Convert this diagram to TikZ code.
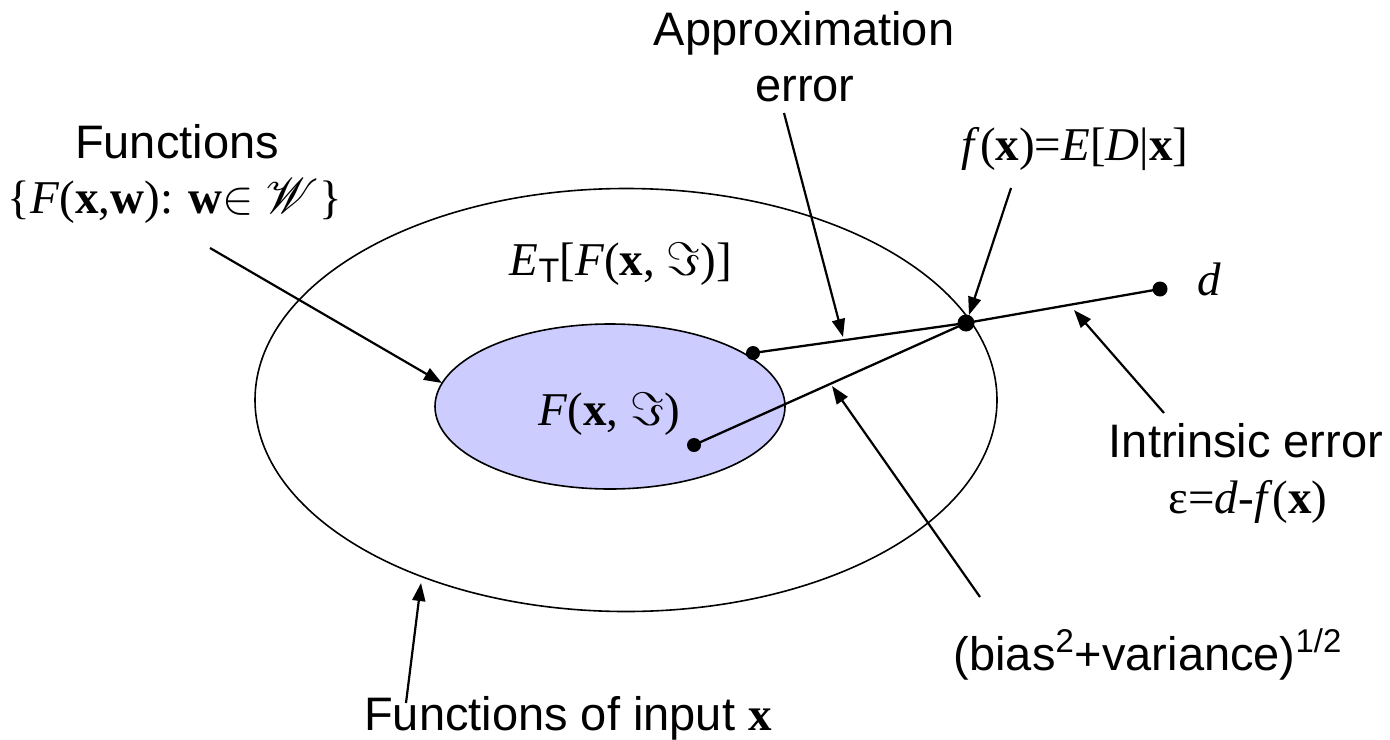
\documentclass[tikz,border=0pt]{standalone}
\usepackage{fix-cm}
\usepackage{mathrsfs}
\usepackage{fontspec}
\setmainfont{Liberation Serif}
\setsansfont{Liberation Sans}
\usetikzlibrary{shapes.geometric,arrows.meta}
\definecolor{innerfill}{RGB}{204,204,255}
\tikzset{
  lbl/.style={font=\sffamily\fontsize{23.5}{28}\selectfont, inner sep=0pt, anchor=base},
  mth/.style={font=\rmfamily\fontsize{23.5}{28}\selectfont, inner sep=0pt, anchor=base},
  dotn/.style={circle, fill=black, inner sep=0pt, minimum size=7pt},
  conn/.style={line width=1.15pt},
  pointer/.style={line width=1.1pt, -{Triangle[length=9pt,width=6.5pt]}},
  ell/.style={draw, ellipse, line width=0.8pt, inner sep=0pt, outer sep=0pt},
}
\begin{document}
\begin{tikzpicture}[x=0.5pt,y=-0.5pt]
\useasboundingbox (0,0) rectangle (1390,739);
% ellipses
\node[ell, minimum width=371pt, minimum height=211.5pt] (outer) at (626,400) {};
\node[ell, fill=innerfill, minimum width=175pt, minimum height=82.5pt] (inner) at (610,406.5) {};
% points
\node[dotn] (A) at (753,353) {};
\node[dotn] (B) at (694,445) {};
\node[dotn, minimum size=8.5pt] (f) at (966,323) {};
\node[dotn, minimum size=7.5pt] (d) at (1160,289) {};
\draw[conn] (A.center) -- (f.center);
\draw[conn] (B.center) -- (f.center);
\draw[conn] (f.center) -- (d.center);
% labels
\node[lbl] (approxA) at (804,45) {Approximation};
\node[lbl] (approxB) at (805,101) {error};
\node[lbl] (funcA) at (177,158) {Functions};
\node[mth] (funcB) at (175,213) {\{\textit{F}(\textbf{x},\textbf{w}): \textbf{w}$\in$ $\mathscr{W}$\}};
\node[mth] (ET) at (621,275) {\textit{E}\raisebox{-0.35ex}{\sffamily\fontsize{17}{17}\selectfont T}[\textit{F}(\textbf{x}, $\Im$)]};
\node[mth] (fx) at (1075,160) {\textit{f}(\textbf{x})=\textit{E}[\textit{D}|\textbf{x}]};
\node[mth] (dl) at (1209,295) {\textit{d}};
\node[mth] (Fin) at (609,425) {\textit{F}(\textbf{x}, $\Im$)};
\node[lbl] (intrA) at (1246,457) {Intrinsic error};
\node[mth] (intrB) at (1248,513) {ε=\textit{d}-\textit{f}(\textbf{x})};
\node[lbl] (bias) at (1148,670) {(bias\textsuperscript{2}+variance)\textsuperscript{1/2}};
\node[lbl] (finput) at (568,730) {Functions of input {\rmfamily\bfseries x}};
% pointers
\coordinate (p1s) at (210,248); \coordinate (p1t) at (442,383);
\coordinate (p2s) at (784,113); \coordinate (p2t) at (843,337);
\coordinate (p3s) at (1011,188); \coordinate (p3t) at (969,315);
\coordinate (p4s) at (1164,413); \coordinate (p4t) at (1074,310);
\coordinate (p5s) at (980,597); \coordinate (p5t) at (832,386);
\coordinate (p6s) at (406,703); \coordinate (p6t) at (421,583);
\draw[pointer] (p1s) -- (p1t);
\draw[pointer] (p2s) -- (p2t);
\draw[pointer] (p3s) -- (p3t);
\draw[pointer] (p4s) -- (p4t);
\draw[pointer] (p5s) -- (p5t);
\draw[pointer] (p6s) -- (p6t);
\end{tikzpicture}
\end{document}
